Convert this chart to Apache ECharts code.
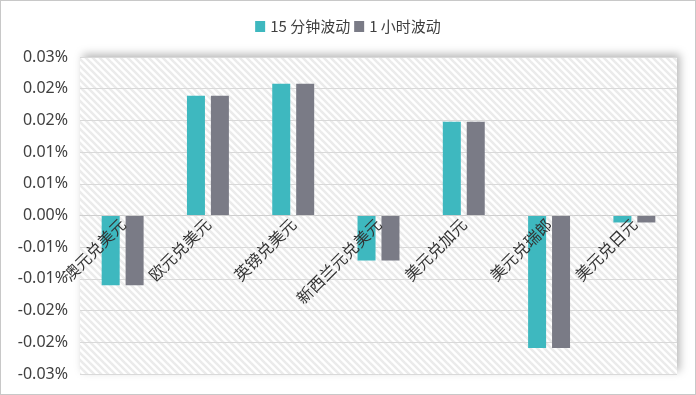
<!DOCTYPE html>
<html>
<head>
<meta charset="utf-8">
<script src="https://cdn.jsdelivr.net/npm/echarts@6/dist/echarts.min.js"></script>
<style>
html,body{margin:0;padding:0;background:#fff;}
#chart{width:696px;height:395px;}
#frame{position:absolute;left:0;top:0;width:696px;height:395px;box-sizing:border-box;border:1px solid #c8c8c8;pointer-events:none;}
</style>
</head>
<body>
<div id="chart"></div>
<div id="frame"></div>
<script>
const categories = ['澳元兑美元', '欧元兑美元', '英镑兑美元', '新西兰元兑美元', '美元兑加元', '美元兑瑞郎', '美元兑日元'];
const seriesNames = ['15 分钟波动', '1 小时波动'];
const vol15m = [-0.0110, 0.0189, 0.0208, -0.0071, 0.0148, -0.0209, -0.0011];
const vol1h  = [-0.0110, 0.0189, 0.0208, -0.0071, 0.0148, -0.0209, -0.0011];

function makePattern() {
  const c = document.createElement('canvas');
  const s = 7;
  c.width = s; c.height = s;
  const ctx = c.getContext('2d');
  ctx.fillStyle = '#ffffff';
  ctx.fillRect(0, 0, s, s);
  ctx.strokeStyle = '#ebebeb';
  ctx.lineWidth = 2.6;
  for (let k = -1; k <= 1; k++) {
    ctx.beginPath();
    ctx.moveTo(k * s - 1, -1);
    ctx.lineTo(k * s + s + 1, s + 1);
    ctx.stroke();
  }
  return c;
}

function fmt(v) {
  const r = Math.sign(v) * Math.round(Math.abs(v) * 100 + 1e-6) / 100;
  return (r === 0 ? 0 : r).toFixed(2) + '%';
}

const W = 696, H = 395, G_TOP = 57, G_BOTTOM = 21;
const gridH = H - G_TOP - G_BOTTOM;

const chart = echarts.init(document.getElementById('chart'), null, {renderer: 'canvas'});
chart.setOption({
  animation: false,
  legend: {
    top: 14,
    left: 'center',
    itemWidth: 10,
    itemHeight: 11,
    itemGap: 4,
    icon: 'rect',
    textStyle: {fontSize: 15, color: '#404040', fontFamily: 'Noto Sans CJK SC, Noto Sans, sans-serif'},
    data: seriesNames
  },
  grid: {
    left: 80, right: 19, top: G_TOP, bottom: G_BOTTOM,
    containLabel: false,
    outerBoundsMode: 'none',
    show: true,
    borderWidth: 0,
    backgroundColor: {image: makePattern(), repeat: 'repeat'},
    shadowColor: 'rgba(0,0,0,0.28)',
    shadowBlur: 8,
    shadowOffsetX: 3,
    shadowOffsetY: -3
  },
  xAxis: {
    type: 'category',
    data: categories,
    offset: -gridH / 2,
    z: 10,
    axisLine: {onZero: false, lineStyle: {color: '#cfcfcf'}},
    axisTick: {show: false},
    axisLabel: {
      interval: 0,
      rotate: 45,
      margin: 6,
      fontSize: 16,
      color: '#333',
      fontFamily: 'Noto Sans CJK SC, sans-serif'
    }
  },
  yAxis: {
    type: 'value',
    min: -0.025,
    max: 0.025,
    interval: 0.005,
    axisLine: {show: false},
    axisTick: {show: false},
    splitLine: {lineStyle: {color: '#d9d9d9'}},
    axisLabel: {
      formatter: fmt,
      fontSize: 16,
      color: '#404040',
      margin: 12,
      fontFamily: 'Noto Sans, sans-serif'
    }
  },
  series: [
    {name: seriesNames[0], type: 'bar', data: vol15m, barWidth: 18, barGap: '33%', itemStyle: {color: '#3eb8bf'}},
    {name: seriesNames[1], type: 'bar', data: vol1h, barWidth: 18, itemStyle: {color: '#7a7b86'}}
  ]
});
</script>
</body>
</html>
